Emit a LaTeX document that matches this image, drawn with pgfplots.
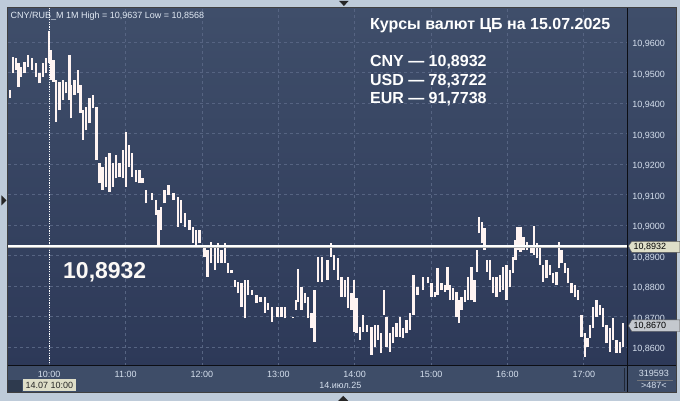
\documentclass[border=0pt]{standalone}
\usepackage{pgfplots}
\pgfplotsset{compat=1.18}
\usepackage{pgfplotstable}
\usepackage{fontspec}
\setmainfont{Liberation Sans}
\definecolor{framec}{RGB}{190,203,217}
\definecolor{bgtop}{RGB}{63,78,106}
\definecolor{bgbot}{RGB}{45,57,88}
\definecolor{stripc}{RGB}{62,77,104}
\definecolor{gridc}{RGB}{86,100,130}
\definecolor{labc}{RGB}{214,224,238}
\definecolor{hdrc}{RGB}{226,234,244}
\definecolor{barc}{RGB}{255,244,242}
\definecolor{tagA}{RGB}{222,222,200}
\definecolor{tagB}{RGB}{196,200,206}
\definecolor{darkline}{RGB}{12,14,20}

\pgfplotstableread{
m lo hi
-30.6 10.9417 10.9444
-28.4 10.9499 10.9553
-26.1 10.9510 10.9548
-24.1 10.9455 10.9531
-22.2 10.9488 10.9520
-19.5 10.9499 10.9537
-16.9 10.9520 10.9559
-13.6 10.9510 10.9548
-10.4 10.9488 10.9531
-7.7 10.9466 10.9499
-5.1 10.9488 10.9531
-2.5 10.9499 10.9548
-0.2 10.9531 10.9637
1.6 10.9477 10.9575
3.4 10.9471 10.9542
5.3 10.9340 10.9477
8.0 10.9378 10.9471
10.6 10.9411 10.9477
13.2 10.9433 10.9471
15.9 10.9411 10.9559
17.3 10.9351 10.9460
19.8 10.9428 10.9477
22.4 10.9433 10.9510
24.6 10.9368 10.9460
26.6 10.9280 10.9378
28.9 10.9313 10.9389
31.6 10.9335 10.9417
34.2 10.9384 10.9428
37.1 10.9214 10.9389
39.4 10.9138 10.9204
42.0 10.9116 10.9192
44.6 10.9127 10.9225
47.3 10.9110 10.9236
49.9 10.9127 10.9204
52.5 10.9154 10.9231
55.2 10.9160 10.9204
57.8 10.9154 10.9247
60.3 10.9127 10.9307
62.5 10.9192 10.9264
65.1 10.9160 10.9236
68.0 10.9143 10.9182
70.9 10.9138 10.9182
73.2 10.9138 10.9154
75.8 10.9072 10.9116
80.7 10.9083 10.9105
83.9 10.9034 10.9083
85.9 10.8930 10.9050
87.9 10.8985 10.9061
90.5 10.9072 10.9116
93.7 10.9100 10.9132
97.7 10.9083 10.9105
101.0 10.8996 10.9094
103.6 10.9007 10.9083
106.9 10.8996 10.9040
110.2 10.8985 10.9018
112.8 10.8941 10.8996
115.4 10.8930 10.8985
118.0 10.8941 10.8985
122.0 10.8897 10.8930
124.5 10.8832 10.8919
127.1 10.8876 10.8946
130.1 10.8854 10.8930
132.6 10.8876 10.8941
135.3 10.8876 10.8919
137.9 10.8876 10.8941
140.5 10.8843 10.8876
143.2 10.8843 10.8854
145.8 10.8799 10.8821
148.4 10.8777 10.8815
151.0 10.8733 10.8810
153.6 10.8695 10.8821
156.2 10.8772 10.8821
159.5 10.8772 10.8788
162.8 10.8745 10.8772
166.0 10.8750 10.8766
169.3 10.8712 10.8766
171.9 10.8723 10.8745
175.2 10.8684 10.8733
179.2 10.8701 10.8733
182.5 10.8701 10.8733
185.1 10.8695 10.8733
191.6 10.8695 10.8701
193.7 10.8723 10.8755
195.5 10.8750 10.8856
198.2 10.8723 10.8799
200.8 10.8745 10.8777
203.4 10.8695 10.8766
206.0 10.8663 10.8712
208.4 10.8619 10.8788
211.0 10.8815 10.8897
214.5 10.8815 10.8897
218.5 10.8821 10.8886
221.4 10.8897 10.8941
223.8 10.8854 10.8903
226.9 10.8821 10.8892
229.6 10.8766 10.8832
232.2 10.8766 10.8821
234.8 10.8728 10.8832
237.5 10.8723 10.8777
239.5 10.8651 10.8821
241.5 10.8646 10.8761
244.0 10.8624 10.8668
246.6 10.8651 10.8706
249.9 10.8651 10.8673
253.2 10.8575 10.8668
255.8 10.8602 10.8673
258.4 10.8624 10.8673
260.5 10.8581 10.8646
262.8 10.8706 10.8788
265.0 10.8602 10.8701
267.6 10.8586 10.8646
270.2 10.8613 10.8668
272.8 10.8635 10.8679
275.4 10.8635 10.8701
278.0 10.8630 10.8663
280.7 10.8646 10.8690
283.3 10.8657 10.8712
286.3 10.8706 10.8837
289.2 10.8772 10.8799
293.7 10.8788 10.8832
297.7 10.8810 10.8832
300.3 10.8766 10.8810
302.9 10.8766 10.8783
305.1 10.8772 10.8859
308.2 10.8788 10.8810
310.8 10.8783 10.8805
312.8 10.8788 10.8865
314.7 10.8755 10.8805
317.3 10.8755 10.8794
320.0 10.8701 10.8783
321.9 10.8679 10.8755
323.9 10.8723 10.8766
326.5 10.8750 10.8788
329.1 10.8755 10.8832
331.8 10.8755 10.8865
334.0 10.8750 10.8821
335.9 10.8848 10.8919
337.9 10.8974 10.9028
339.9 10.8941 10.9012
342.0 10.8919 10.8990
343.9 10.8848 10.8886
346.1 10.8821 10.8886
348.7 10.8777 10.8832
351.4 10.8766 10.8832
354.0 10.8783 10.8837
356.6 10.8788 10.8865
359.3 10.8755 10.8870
361.9 10.8799 10.8854
364.5 10.8843 10.8897
366.4 10.8886 10.8952
368.0 10.8919 10.8996
370.3 10.8914 10.8996
372.6 10.8919 10.8963
375.6 10.8919 10.8946
378.9 10.8908 10.8936
381.1 10.8903 10.8998
383.1 10.8892 10.8941
385.4 10.8870 10.8925
388.0 10.8815 10.8870
390.7 10.8826 10.8886
393.3 10.8837 10.8870
395.9 10.8810 10.8843
398.6 10.8805 10.8848
400.6 10.8859 10.8946
402.6 10.8876 10.8919
405.1 10.8843 10.8876
407.7 10.8810 10.8859
410.3 10.8777 10.8810
412.9 10.8766 10.8805
415.5 10.8755 10.8788
418.2 10.8635 10.8706
420.8 10.8569 10.8646
422.8 10.8602 10.8630
424.7 10.8630 10.8673
427.3 10.8663 10.8733
430.0 10.8701 10.8755
432.6 10.8706 10.8739
435.2 10.8668 10.8728
437.8 10.8613 10.8673
440.4 10.8586 10.8663
443.0 10.8624 10.8695
445.7 10.8581 10.8624
448.3 10.8581 10.8619
450.9 10.8602 10.8679
}\bars

\begin{document}
\begin{tikzpicture}
\begin{scope}[x=1pt,y=1pt]
\fill[framec] (0,0) rectangle (680,401);
\shade[top color=bgtop, bottom color=bgbot] (8,35) rectangle (676,393);
\fill[stripc] (8,9) rectangle (676,35);
\fill[stripc!75!black] (8,9) rectangle (22.5,21);
\end{scope}
\begin{axis}[
  at={(8pt,35pt)}, anchor=south west,
  scale only axis, width=620pt, height=358pt,
  xmin=-32.4, xmax=454.6, ymin=10.8539, ymax=10.9713,
  axis line style={draw=none},
  major tick length=0pt, minor tick length=0pt,
  xtick={0,60,120,180,240,300,360,420},
  xticklabels={10:00,11:00,12:00,13:00,14:00,15:00,16:00,17:00},
  ytick={10.86,10.87,10.88,10.89,10.90,10.91,10.92,10.93,10.94,10.95,10.96},
  yticklabel pos=right,
  scaled y ticks=false,
  yticklabel={\pgfmathprintnumber[fixed,fixed zerofill,precision=4,use comma]{\tick}},
  /pgf/number format/assume math mode=true,
  tick label style={font=\fontsize{9}{10}\selectfont, text=labc, inner sep=0pt},
  xticklabel style={anchor=base, yshift=-11.7pt},
  yticklabel style={anchor=base west, xshift=4.3pt, yshift=-4.3pt},
  grid=major,
  major grid style={gridc, dash pattern=on 3pt off 3pt, line width=0.9pt},
  clip=true,
]
\addplot[draw=none, mark=none, error bars/.cd, y dir=plus, y explicit, error mark=none,
  error bar style={draw=barc, solid, line width=2.4pt}]
  table[x=m, y=lo, y error plus expr=\thisrow{hi}-\thisrow{lo}] {\bars};
\addplot[white, line width=1pt, dash pattern=on 1.2pt off 1.2pt] coordinates {(0,10.8539) (0,10.9713)};
\addplot[gray!60, line width=3pt] coordinates {(-32.4,10.8932) (454.6,10.8932)};
\addplot[white, line width=1.8pt] coordinates {(-32.4,10.8932) (454.6,10.8932)};
\end{axis}
\begin{scope}[x=1pt,y=1pt]
\draw[darkline, line width=1pt] (8,35) -- (676,35);
\draw[darkline, line width=1pt] (628,9) -- (628,393);
\draw[darkline!60!stripc, line width=0.8pt] (625,10) -- (625,33);
\draw[black!75, line width=0.7pt] (7.6,8.6) rectangle (676.4,393.4);
% price tags
\filldraw[fill=tagA, draw=gray!70!black, line width=0.4pt] (628.6,154.8) -- (632,159.5) -- (680,159.5) -- (680,148.5) -- (632,148.5) -- cycle;
\node[anchor=base west, inner sep=0pt, font=\fontsize{9}{10}\selectfont, text=black] at (633.5,151) {10,8932};
\filldraw[fill=tagB, draw=gray!70!black, line width=0.4pt] (628.6,75.2) -- (632,81) -- (680,81) -- (680,69.4) -- (632,69.4) -- cycle;
\node[anchor=base west, inner sep=0pt, font=\fontsize{9}{10}\selectfont, text=black] at (633.5,72.7) {10,8670};
% time strip
\fill[tagA] (22.7,10) rectangle (76,22);
\node[anchor=base, inner sep=0pt, font=\fontsize{9}{10}\selectfont, text=black!85] at (49.35,12.3) {14.07 10:00};
\node[anchor=base west, inner sep=0pt, font=\fontsize{9}{10}\selectfont, text=labc] at (319.3,12.7) {14.июл.25};
\node[anchor=base, inner sep=0pt, font=\fontsize{9}{10}\selectfont, text=labc] at (654,24.3) {319593};
\draw[gray!80!stripc, line width=0.6pt] (637,21) -- (672.7,21);
\node[anchor=base, inner sep=0pt, font=\fontsize{9}{10}\selectfont, text=labc] at (654,12.7) {>487<};
% triangles
\fill[black!85] (1.5,205.5) -- (1.5,195.5) -- (6.5,200.5) -- cycle;
\fill[black!85] (339.3,400) -- (348.7,400) -- (344,395) -- cycle;
\fill[black!85] (338.3,0) -- (348.3,0) -- (343.3,5) -- cycle;
% texts
\node[anchor=base west, inner sep=0pt, font=\fontsize{9}{10}\selectfont, text=hdrc] at (10.5,382.5) {CNY/RUB\_M 1M High = 10,9637 Low = 10,8568};
\node[anchor=base west, inner sep=0pt, font=\fontsize{16}{19}\selectfont\bfseries, text=white] at (370,371) {Курсы валют ЦБ на 15.07.2025};
\node[anchor=base west, inner sep=0pt, font=\fontsize{16}{19}\selectfont\bfseries, text=white] at (370,334.3) {CNY — 10,8932};
\node[anchor=base west, inner sep=0pt, font=\fontsize{16}{19}\selectfont\bfseries, text=white] at (370,315.5) {USD — 78,3722};
\node[anchor=base west, inner sep=0pt, font=\fontsize{16}{19}\selectfont\bfseries, text=white] at (370,297) {EUR — 91,7738};
\node[anchor=base west, inner sep=0pt, font=\fontsize{23}{27}\selectfont\bfseries, text=white!95!brown] at (63,122) {10,8932};
\end{scope}
\end{tikzpicture}
\end{document}
